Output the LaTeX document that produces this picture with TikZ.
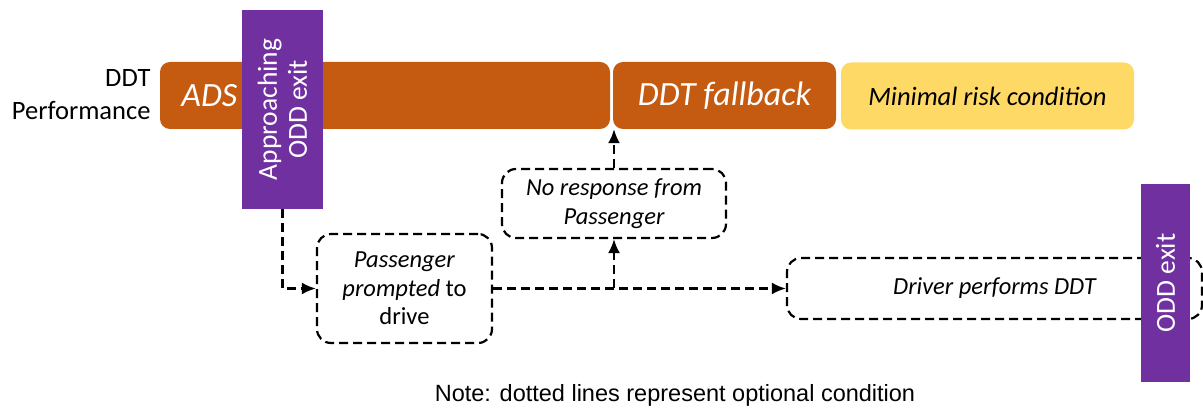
\documentclass[tikz,border=0pt]{standalone}
\usepackage{fontspec}
\setmainfont{Carlito}
\newfontfamily\notefont{Liberation Sans}
\usetikzlibrary{arrows.meta}
\definecolor{adsorange}{HTML}{C55A11}
\definecolor{mrcyellow}{HTML}{FFD966}
\definecolor{oddpurple}{HTML}{7030A0}
\begin{document}
\begin{tikzpicture}[x=1pt,y=-1pt,
  bar/.style={rounded corners=10pt,inner sep=0pt,minimum height=67pt},
  bartext/.style={text=white,font=\fontsize{34}{38}\selectfont\itshape},
  exitbar/.style={fill=oddpurple,text=white,rotate=90,inner sep=0pt,align=center,font=\fontsize{27.5}{30}\selectfont},
  optbox/.style={draw,line width=2.2pt,dash pattern=on 9pt off 5pt,rounded corners=14pt,align=center,inner sep=0pt,font=\fontsize{24.5}{28.5}\selectfont},
  optarrow/.style={line width=2.2pt,dash pattern=on 9pt off 5pt,-{Latex[length=14pt,width=12pt]}}]
\useasboundingbox (0,0) rectangle (1203,411);
\node[align=right,anchor=east,font=\fontsize{26.5}{33}\selectfont] (perf) at (154,95) {DDT\\Performance};
\node[bar,fill=adsorange,minimum width=450pt] (ads) at (385,95.5) {};
\node[bartext,anchor=west] (adslabel) at ([xshift=18pt]ads.west) {ADS};
\node[bar,bartext,fill=adsorange,minimum width=223pt] (fallback) at (724.5,95.5) {DDT fallback};
\node[bar,fill=mrcyellow,minimum width=293pt,font=\fontsize{26.5}{30}\selectfont\itshape] (mrc) at (987.5,96) {Minimal risk condition};
\node[exitbar,minimum width=199pt,minimum height=81pt] (approach) at (282.5,109.5) {Approaching\\ODD exit};
\node[optbox,minimum width=175pt,minimum height=109pt] (prompt) at (404.5,288.5) {\textit{Passenger}\\\textit{prompted} to\\drive};
\node[optbox,minimum width=224pt,minimum height=69pt,font=\fontsize{24.5}{29}\selectfont\itshape] (noresp) at (614,203.5) {No response from\\Passenger};
\node[optbox,minimum width=415pt,minimum height=61pt,font=\fontsize{24.5}{28}\selectfont\itshape] (driver) at (994.5,288.5) {Driver performs DDT};
\node[exitbar,minimum width=198pt,minimum height=49pt] (oddexit) at (1165.5,283) {ODD exit};
\node[font=\notefont\fontsize{23.5}{26}\selectfont] (note) at (675,395) {Note: dotted lines represent optional condition};
\coordinate (split) at (prompt.east -| noresp.south);
\draw[optarrow] (approach.west) |- (prompt.west);
\draw[optarrow] (prompt.east) -- (prompt.east -| driver.west);
\draw[optarrow] (split) -- (noresp.south);
\draw[optarrow] (noresp.north) -- (noresp.north |- fallback.south);
\end{tikzpicture}
\end{document}
